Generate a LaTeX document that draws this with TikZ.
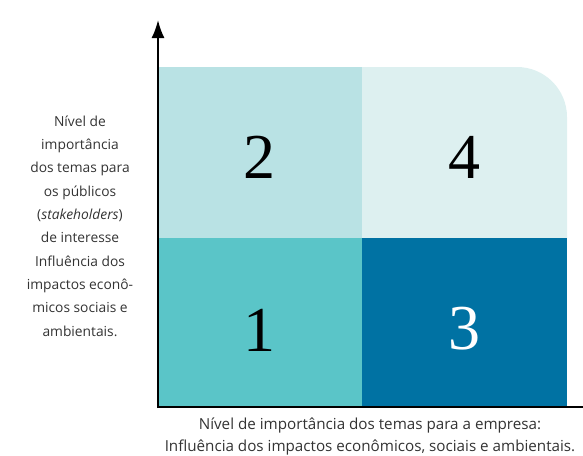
\documentclass[tikz,border=0pt]{standalone}
\usepackage{fontspec}
\usetikzlibrary{arrows.meta}
\setmainfont{Open Sans}
\newfontfamily\digitfont{Liberation Serif}
\definecolor{boxlow}{HTML}{5AC5C8}
\definecolor{boxhigh}{HTML}{0072A3}
\definecolor{boxpale}{HTML}{B9E2E4}
\definecolor{boxpaler}{HTML}{DDF0F0}
\definecolor{labelgray}{HTML}{333333}
\begin{document}
\begin{tikzpicture}[x=1pt,y=-1pt,
    quadnum/.style={font=\digitfont\fontsize{64}{64}\selectfont, inner sep=0pt},
    axislabel/.style={text=labelgray, align=center, inner sep=0pt}]

    \useasboundingbox (0,0) rectangle (583,455);

    % Quadrants
    \fill[boxpale] (159,67) rectangle (362,238);
    \fill[boxpaler] (362,238) -- (362,67) -- (517,67) arc[start angle=-90, end angle=0, radius=50] -- (567,238) -- cycle;
    \fill[boxlow] (159,238) rectangle (362,406);
    \fill[boxhigh] (362,238) rectangle (567,406);

    % Quadrant numbers
    \node[quadnum] (q2) at (259,157) {2};
    \node[quadnum] (q4) at (464,157) {4};
    \node[quadnum] (q1) at (259,330) {1};
    \node[quadnum, text=white] (q3) at (464,329) {3};

    % Axes
    \coordinate (origin) at (158,407);
    \coordinate (ytip) at (158,20);
    \coordinate (xend) at (583,407);
    \draw[line width=2pt, -{Latex[length=18pt,width=13pt]}] ([yshift=-1pt]origin) -- (ytip);
    \draw[line width=2pt] ([xshift=-1pt]origin) -- (xend);

    % Axis labels
    \node[axislabel, font=\fontsize{13.8}{23.3}\selectfont] (ylabel) at (80,226) {Nível de\\importância\\dos temas para\\os públicos\\(\textit{stakeholders})\\de interesse\\Influência dos\\impactos econô-\\micos sociais e\\ambientais.};
    \node[axislabel, font=\fontsize{15.2}{22}\selectfont] (xlabel) at (370,436) {Nível de importância dos temas para a empresa:\\Influência dos impactos econômicos, sociais e ambientais.};
\end{tikzpicture}
\end{document}
